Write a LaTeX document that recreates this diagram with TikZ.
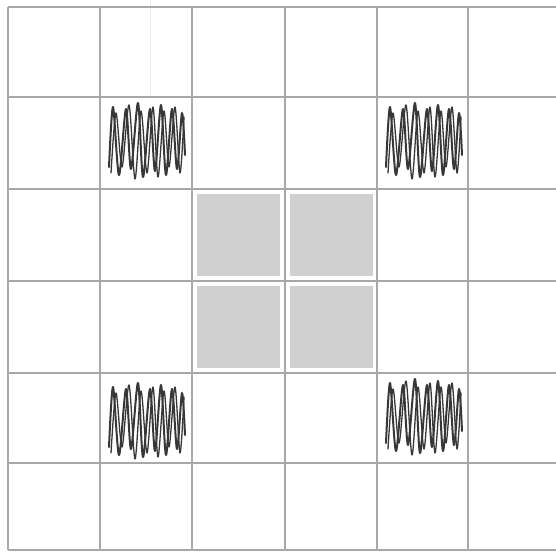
\documentclass[tikz,border=0pt]{standalone}
\usepackage{tikz}
\definecolor{gridgray}{RGB}{168,168,168}
\definecolor{cellgray}{RGB}{208,208,208}
\definecolor{pencil}{RGB}{55,55,55}
\newcommand{\scrib}[2]{%
  \draw[scribble, shift={(#1,#2)}] plot[smooth, tension=0.5] coordinates
    {(9,70) (13,10) (19,78) (26,12) (31,72) (38,6) (43,80) (50,12)
     (55,74) (61,8) (66,78) (72,12) (77,72) (82,16) (85,58)};
  \draw[scribble, line width=1.3pt, shift={(#1,#2)}] plot[smooth, tension=0.5] coordinates
    {(11,76) (16,16) (22,70) (29,8) (35,82) (41,14) (47,76) (53,10)
     (58,80) (64,14) (69,70) (75,10) (80,76) (84,20)};}
\begin{document}
\begin{tikzpicture}[x=1pt, y=-1pt,
  gridline/.style={draw=gridgray, line width=2.9pt},
  centre/.style={fill=cellgray},
  scribble/.style={draw=pencil, line width=2pt, line join=round, line cap=round},
]
\useasboundingbox (0,0) rectangle (556,554);
% shaded middle block
\foreach \x/\y in {192/189, 285/189, 192/281, 285/281}
  \fill[centre] (\x+5,\y+5) rectangle (\x+88,\y+87);
% paper grid
\draw[gridgray!25, line width=1pt] (150,0) -- (150,97);
\foreach \x in {8,100,192,285,377,468}
  \draw[gridline] (\x,7) -- (\x,550);
\foreach \y in {7,97,189,281,373,463,550}
  \draw[gridline] (8,\y) -- (556,\y);
% pencil marks
\scrib{100}{97}
\scrib{377}{97}
\scrib{100}{377}
\scrib{377}{373}
\end{tikzpicture}
\end{document}
